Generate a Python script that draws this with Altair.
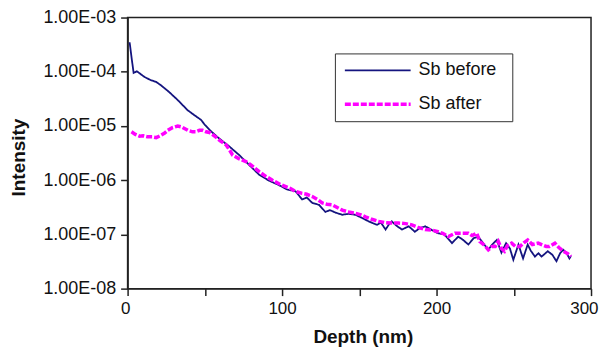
import altair as alt
import pandas as pd

series_names = ["Sb before", "Sb after"]
series_colors = ["#14147f", "#ff00ff"]

x_ticks = [0, 50, 100, 150, 200, 250, 300]
y_ticks = [1e-8, 1e-7, 1e-6, 1e-5, 1e-4, 1e-3]

before_depth = [1.3, 2.6, 3.9, 6, 11, 15, 18.5, 21.7, 27, 32.5, 38.9, 43, 47.5, 50, 54, 58,
                65.8, 72.3, 78, 85.2, 91, 98, 103, 108.8, 113, 116, 119.6, 124, 128, 131,
                135, 139, 143, 147.5, 152, 156, 161.5, 164, 167, 169, 171, 174, 177.6, 182,
                186, 189, 192.7, 197, 201, 205, 210, 214, 217, 220.6, 224, 227, 230, 233.5,
                236, 239, 242, 245, 247.5, 249.7, 253, 256, 259, 261, 263.7, 266, 268, 272,
                275, 277.6, 280, 282, 284, 286, 287]
before_int = [3.5e-4, 1.8e-4, 9.5e-5, 1.02e-4, 8.0e-5, 7.0e-5, 6.5e-5, 5.6e-5, 4.2e-5, 3.0e-5,
              1.95e-5, 1.6e-5, 1.3e-5, 1.05e-5, 8.0e-6, 6.3e-6,
              4.2e-6, 2.9e-6, 2.0e-6, 1.26e-6, 1.0e-6, 8.1e-7, 6.8e-7, 6.2e-7, 4.4e-7, 4.8e-7,
              3.8e-7, 3.5e-7, 2.6e-7, 2.8e-7,
              2.5e-7, 2.3e-7, 2.4e-7, 2.3e-7, 2.0e-7, 1.74e-7, 1.5e-7, 1.65e-7, 1.23e-7, 1.5e-7,
              1.74e-7, 1.45e-7, 1.23e-7, 1.41e-7,
              1.12e-7, 1.3e-7, 1.41e-7, 1.2e-7, 1.05e-7, 1.0e-7, 6.9e-8, 9.1e-8, 8.0e-8, 6.5e-8,
              8.5e-8, 9.1e-8, 7.0e-8, 5.2e-8,
              6.5e-8, 7.9e-8, 4.6e-8, 6.9e-8, 5.5e-8, 3.4e-8, 6.5e-8, 3.6e-8, 6.5e-8, 5.0e-8,
              3.9e-8, 4.5e-8, 3.9e-8, 4.9e-8,
              4.2e-8, 3.2e-8, 4.5e-8, 5.2e-8, 4.6e-8, 3.6e-8, 4.0e-8]

after_depth = [2.5, 5, 7.7, 10, 13, 16, 18.5, 21, 24, 26, 29, 32.5, 35, 39, 42, 44, 46.5, 48.6,
               50.8, 53, 57, 60, 63.7, 66, 68, 72, 76.6, 80, 85, 89, 93.8, 98, 102.4, 105.5,
               108.8, 113, 116, 119.6, 123, 126, 129, 132.5, 136, 139, 143, 147.5, 151, 154,
               158, 162.6, 167, 171, 175.5, 180, 184, 188, 192.7, 197, 201, 204, 207.7, 212,
               216, 220.6, 223, 226, 228, 231, 233.5, 236, 238, 240, 242, 244, 246, 248.6,
               251, 254, 256.5, 259, 262, 265.8, 268, 271, 273, 276.6, 279, 282, 285, 287]
after_int = [7.8e-6, 7.0e-6, 6.5e-6, 6.6e-6, 6.3e-6, 6.3e-6, 6.1e-6, 6.6e-6, 7.4e-6, 8.3e-6,
             9.3e-6, 1.0e-5, 9.6e-6, 8.3e-6, 7.8e-6, 7.8e-6, 8.3e-6, 8.3e-6,
             7.8e-6, 7.6e-6, 6.3e-6, 5.3e-6, 4.5e-6, 3.6e-6, 2.9e-6, 2.5e-6, 2.2e-6, 1.9e-6,
             1.45e-6, 1.2e-6, 1.0e-6, 8.6e-7, 7.6e-7, 7.0e-7,
             6.2e-7, 5.7e-7, 5.5e-7, 5.0e-7, 4.4e-7, 3.8e-7, 3.6e-7, 3.5e-7, 3.1e-7, 2.8e-7,
             2.6e-7, 2.45e-7, 2.3e-7, 2.1e-7,
             1.9e-7, 1.74e-7, 1.65e-7, 1.62e-7, 1.62e-7, 1.58e-7, 1.5e-7, 1.35e-7, 1.23e-7,
             1.2e-7, 1.12e-7, 1.05e-7, 9.1e-8, 1.05e-7,
             1.05e-7, 1.05e-7, 9.5e-8, 1.05e-7, 7.4e-8, 6.3e-8, 5.2e-8, 6.0e-8, 6.0e-8, 7.4e-8,
             5.5e-8, 4.9e-8, 6.3e-8, 6.9e-8,
             6.0e-8, 6.0e-8, 7.0e-8, 7.9e-8, 6.5e-8, 6.9e-8, 6.5e-8, 6.0e-8, 6.0e-8, 6.9e-8,
             5.8e-8, 4.9e-8, 4.4e-8, 3.9e-8]

df = pd.concat([
    pd.DataFrame({"depth": before_depth, "intensity": before_int, "series": series_names[0]}),
    pd.DataFrame({"depth": after_depth, "intensity": after_int, "series": series_names[1]}),
], ignore_index=True)

legend = alt.Legend(title="\u00a0", titleOrient="right", titlePadding=8,
                    orient="none", legendX=208, legendY=36)

chart = alt.Chart(df).mark_line(clip=True).encode(
    x=alt.X("depth:Q",
            scale=alt.Scale(domain=[0, 300], nice=False, zero=False),
            axis=alt.Axis(values=x_ticks, title="Depth (nm)",
                          labelExpr="datum.value % 100 == 0 ? datum.label : ''",
                          labelFlush=True, labelFlushOffset=7,
                          labelPadding=5, titleX=236, titleY=54,
                          titleBaseline="alphabetic", titleAnchor="middle")),
    y=alt.Y("intensity:Q",
            scale=alt.Scale(type="log", domain=[1e-8, 1e-3], nice=False),
            axis=alt.Axis(values=y_ticks, title="Intensity",
                          labelExpr="'1.00E-0' + format(-round(log(datum.value) / LN10), 'd')",
                          labelFontSize=18,
                          labelPadding=5, titleX=-99, titleY=140,
                          titleAngle=270, titleBaseline="bottom", titleAlign="center")),
    color=alt.Color("series:N", sort=series_names,
                    scale=alt.Scale(domain=series_names, range=series_colors), legend=legend),
    strokeDash=alt.StrokeDash("series:N", sort=series_names,
                              scale=alt.Scale(domain=series_names, range=[[1, 0], [6, 2]]),
                              legend=legend),
    strokeWidth=alt.StrokeWidth("series:N", sort=series_names,
                                scale=alt.Scale(domain=series_names, range=[1.8, 3.5]),
                                legend=legend),
).properties(
    width=465, height=272,
    padding={"left": 120, "top": 9, "right": 8, "bottom": 58},
    autosize=alt.AutoSizeParams(type="none"),
).configure_view(
    stroke="#222222", strokeWidth=1.5
).configure_axis(
    grid=False, domainColor="#222222", domainWidth=1.5, tickColor="#222222", tickWidth=1.5,
    tickSize=7, labelFont="Liberation Sans", labelFontSize=17, labelColor="#111111",
    titleFont="Liberation Sans", titleFontSize=19, titleFontWeight="bold", titleColor="#111111",
).configure_legend(
    strokeColor="#333333", fillColor="white", padding=8,
    symbolType="M-1,0H7.25", symbolSize=256,
    labelFont="Liberation Sans", labelFontSize=18, labelColor="#111111",
    titleFont="Liberation Sans", titleFontSize=18,
    labelOffset=56, rowPadding=15,
)

chart.save("out.html", embed_options={"renderer": "svg", "actions": False})
